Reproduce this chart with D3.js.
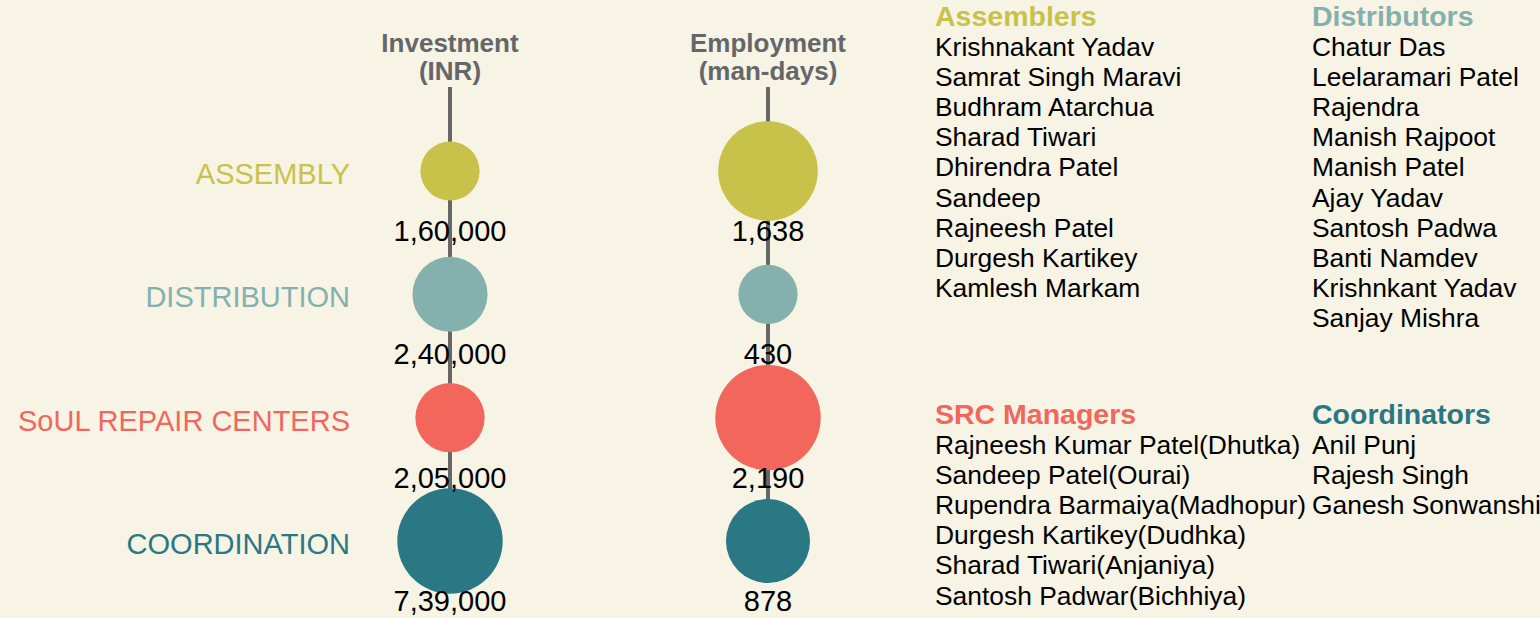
<!DOCTYPE html>
<html>
<head>
<meta charset="utf-8">
<script src="https://cdn.jsdelivr.net/npm/d3@7"></script>
<style>
    html, body { margin: 0; padding: 0; background: #f7f3e5; }
    svg { display: block; font-family: Arial, "Liberation Sans", Helvetica, sans-serif; }
</style>
</head>
<body>
<svg id="chart" width="1540" height="618"></svg>
<script>
// Kategorien und Werte
const categories = ['ASSEMBLY', 'DISTRIBUTION', 'SoUL REPAIR CENTERS', 'COORDINATION'];
const categoryColors = ['#c9c24a', '#84b1ae', '#f2665b', '#297884'];
const investment = [160000, 240000, 205000, 739000];
const employment = [1638, 430, 2190, 878];
const metricTitles = [['Investment', '(INR)'], ['Employment', '(man-days)']];

// Namenslisten
const assemblers = ['Krishnakant Yadav', 'Samrat Singh Maravi', 'Budhram Atarchua', 'Sharad Tiwari',
    'Dhirendra Patel', 'Sandeep', 'Rajneesh Patel', 'Durgesh Kartikey', 'Kamlesh Markam'];
const distributors = ['Chatur Das', 'Leelaramari Patel', 'Rajendra', 'Manish Rajpoot', 'Manish Patel',
    'Ajay Yadav', 'Santosh Padwa', 'Banti Namdev', 'Krishnkant Yadav', 'Sanjay Mishra'];
const srcManagers = ['Rajneesh Kumar Patel(Dhutka)', 'Sandeep Patel(Ourai)', 'Rupendra Barmaiya(Madhopur)',
    'Durgesh Kartikey(Dudhka)', 'Sharad Tiwari(Anjaniya)', 'Santosh Padwar(Bichhiya)'];
const coordinators = ['Anil Punj', 'Rajesh Singh', 'Ganesh Sonwanshi'];

/**
 * Zahl im indischen Format (1,60,000)
 */
function formatIndian(n) {
    const s = String(n);
    if (s.length <= 3) return s;
    const last3 = s.slice(-3);
    const rest = s.slice(0, -3).replace(/\B(?=(\d{2})+(?!\d))/g, ',');
    return rest + ',' + last3;
}

const svg = d3.select('#chart');

// Skalen
const yScale = d3.scalePoint()
    .domain(categories)
    .range([171, 541]);

const xScale = d3.scalePoint()
    .domain(['investment', 'employment'])
    .range([450, 768]);

const color = d3.scaleOrdinal()
    .domain(categories)
    .range(categoryColors);

/**
 * Eine Spalte mit Kreisen zeichnen
 */
function drawColumn(key, values, title) {
    const cx = xScale(key);
    const data = categories.map((c, i) => ({ cat: c, value: values[i] }));

    const rScale = d3.scalePow()
        .exponent(-0.5)
        .domain(d3.extent(values))
        .range([29.6, 52.7]);

    const g = svg.append('g');

    // Titel
    g.append('text')
        .attr('x', cx)
        .attr('text-anchor', 'middle')
        .style('font-size', '26px')
        .style('font-weight', 'bold')
        .style('fill', '#63676a')
        .selectAll('tspan')
        .data(title)
        .enter()
        .append('tspan')
        .attr('x', cx)
        .attr('y', (d, i) => 52 + i * 27.5)
        .text(d => d);

    // Verbindungslinie
    g.append('line')
        .attr('x1', cx)
        .attr('x2', cx)
        .attr('y1', 87)
        .attr('y2', yScale(categories[categories.length - 1]))
        .style('stroke', '#676767')
        .style('stroke-width', 4);

    // Kreise
    g.selectAll('.bubble')
        .data(data)
        .enter()
        .append('circle')
        .attr('class', 'bubble')
        .attr('cx', cx)
        .attr('cy', d => yScale(d.cat))
        .attr('r', d => rScale(d.value))
        .attr('fill', d => color(d.cat));

    // Werte
    g.selectAll('.value-label')
        .data(data)
        .enter()
        .append('text')
        .attr('class', 'value-label')
        .attr('x', cx)
        .attr('y', d => yScale(d.cat) + 70)
        .attr('text-anchor', 'middle')
        .style('font-size', '29px')
        .style('fill', '#000')
        .text(d => formatIndian(d.value));
}

// Kategorie-Beschriftungen
svg.selectAll('.cat-label')
    .data(categories)
    .enter()
    .append('text')
    .attr('class', 'cat-label')
    .attr('x', 350)
    .attr('y', d => yScale(d) + 13)
    .attr('text-anchor', 'end')
    .style('font-size', '29px')
    .style('fill', d => color(d))
    .text(d => d);

drawColumn('investment', investment, metricTitles[0]);
drawColumn('employment', employment, metricTitles[1]);

/**
 * Namensliste mit farbiger Ueberschrift
 */
function drawList(x, y, title, titleColor, names) {
    const g = svg.append('g')
        .attr('transform', `translate(${x},${y})`);

    g.append('text')
        .attr('y', 0)
        .style('font-size', '28.5px')
        .style('font-weight', 'bold')
        .style('fill', titleColor)
        .text(title);

    g.selectAll('.name')
        .data(names)
        .enter()
        .append('text')
        .attr('class', 'name')
        .attr('y', (d, i) => 29.5 + i * 30.2)
        .style('font-size', '26.4px')
        .style('fill', '#000')
        .text(d => d);
}

drawList(935, 26, 'Assemblers', color('ASSEMBLY'), assemblers);
drawList(1312, 26, 'Distributors', color('DISTRIBUTION'), distributors);
drawList(935, 424, 'SRC Managers', color('SoUL REPAIR CENTERS'), srcManagers);
drawList(1312, 424, 'Coordinators', color('COORDINATION'), coordinators);
</script>
</body>
</html>
